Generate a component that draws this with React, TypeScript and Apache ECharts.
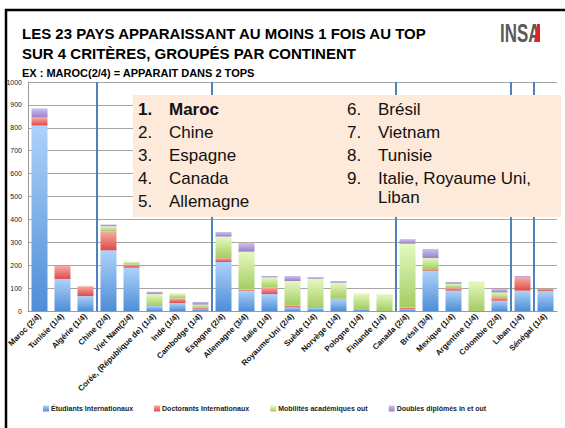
import React, { useEffect, useRef } from "react";
import * as echarts from "echarts";

const categories = [
  "Maroc (2/4)", "Tunisie (1/4)", "Algérie (1/4)", "Chine (2/4)", "Viet Nam(2/4)",
  "Corée, (République de) (1/4)", "Inde (1/4)", "Cambodge (1/4)", "Espagne (2/4)",
  "Allemagne (3/4)", "Italie (1/4)", "Royaume-Uni (2/4)", "Suède (1/4)", "Norvège (1/4)",
  "Pologne (1/4)", "Finlande (1/4)", "Canada (2/4)", "Brésil (3/4)", "Mexique (1/4)",
  "Argentine (1/4)", "Colombie (2/4)", "Liban (1/4)", "Sénégal (1/4)",
];
const etudiants = [810, 140, 65, 265, 189, 22, 35, 10, 214, 89, 74, 16, 13, 51, 9, 0, 9, 176, 89, 0, 45, 89, 87];
const doctorants = [35, 57, 43, 83, 14, 0, 20, 6, 17, 4, 28, 9, 0, 3, 0, 0, 6, 7, 11, 0, 12, 58, 9];
const mobilites = [0, 0, 0, 22, 12, 52, 22, 12, 94, 166, 45, 106, 128, 70, 68, 74, 279, 48, 19, 130, 24, 0, 0];
const doubles = [40, 0, 0, 8, 0, 10, 0, 12, 20, 39, 6, 22, 7, 7, 0, 0, 20, 40, 8, 0, 15, 6, 0];
const seriesNames = ["Étudiants Internationaux", "Doctorants Internationaux", "Mobilités académiques out", "Doubles diplômés in et out"];
const continentBreaks = [3, 8, 16, 21, 22];
const yTicks = { min: 0, max: 1000, interval: 100 };
const titleLines = ["LES 23 PAYS APPARAISSANT AU MOINS 1 FOIS AU TOP", "SUR 4 CRITÈRES, GROUPÉS PAR CONTINENT"];
const subtitle = "EX : MAROC(2/4) = APPARAIT DANS 2 TOPS";
const rankLeft = [["1.", "Maroc"], ["2.", "Chine"], ["3.", "Espagne"], ["4.", "Canada"], ["5.", "Allemagne"]];
const rankRight = [["6.", "Brésil"], ["7.", "Vietnam"], ["8.", "Tunisie"], ["9.", "Italie, Royaume Uni,"], ["", "Liban"]];

const grads: [string, string][] = [
  ["#aed2fa", "#4e8dd6"],
  ["#f9aaa6", "#dc4c46"],
  ["#e6f9c2", "#a3cd62"],
  ["#cfc2ec", "#9880cb"],
];

export default function App() {
  const ref = useRef<HTMLDivElement>(null);
  useEffect(() => {
    if (!ref.current) return;
    const chart = echarts.init(ref.current, null, { renderer: "svg" });
    const grad = (i: number) =>
      new echarts.graphic.LinearGradient(0, 0, 0, 1, [
        { offset: 0, color: grads[i][0] },
        { offset: 1, color: grads[i][1] },
      ]);
    const dataSets = [etudiants, doctorants, mobilites, doubles];
    const font = "'Liberation Sans', Arial, sans-serif";
    const txt = (x: number, y: number, text: string, f: string, extra: any = {}) => ({
      type: "text",
      z: 100,
      x,
      y,
      style: {
        text,
        font: f,
        fill: "#111",
        align: "left",
        verticalAlign: "middle",
        textAlign: "left",
        textVerticalAlign: "middle",
        ...extra,
      },
    });
    const graphics: any[] = [];
    graphics.push({
      type: "rect",
      z: 90,
      shape: { x: 133, y: 95, width: 428, height: 122 },
      style: { fill: "#fdeada" },
    });
    const ysL = [109, 132, 155, 178, 201];
    const ysR = [109, 132, 155, 178, 197];
    rankLeft.forEach((r, i) => {
      const f = i === 0 ? `bold 17px ${font}` : `17px ${font}`;
      graphics.push(txt(138, ysL[i], r[0], f));
      graphics.push(txt(169, ysL[i], r[1], f));
    });
    rankRight.forEach((r, i) => {
      if (r[0]) graphics.push(txt(347, ysR[i], r[0], `17px ${font}`));
      graphics.push(txt(378, ysR[i], r[1], `17px ${font}`));
    });
    graphics.push(txt(22, 33, titleLines[0], `bold 15px ${font}`, { fill: "#000" }));
    graphics.push(txt(22, 53, titleLines[1], `bold 15px ${font}`, { fill: "#000" }));
    graphics.push(txt(22, 73, subtitle, `bold 11px ${font}`, { fill: "#000" }));
    graphics.push({
      type: "text",
      z: 100,
      x: 500,
      y: 33,
      scaleX: 0.65,
      style: {
        text: "INSA",
        font: `bold 26px ${font}`,
        fill: "#5a5a5a",
        align: "left",
        verticalAlign: "middle",
        textAlign: "left",
        textVerticalAlign: "middle",
      },
    });
    graphics.push({
      type: "polygon",
      z: 101,
      shape: { points: [[537, 24], [540, 24], [540, 42], [534, 42]] },
      style: { fill: "#d9262b" },
    });
    graphics.push({
      type: "rect",
      z: 110,
      shape: { x: 6, y: 10, width: 700, height: 600 },
      style: { fill: "none", stroke: "#000", lineWidth: 2.5 },
    });

    chart.setOption({
      animation: false,
      backgroundColor: "#fff",
      grid: { left: 28, right: 8, top: 82, bottom: 117, containLabel: false },
      legend: {
        bottom: 11,
        left: 38,
        itemWidth: 6,
        itemHeight: 6,
        itemGap: 21,
        icon: "rect",
        textStyle: { fontSize: 7, fontWeight: "bold", color: "#222", fontFamily: font, padding: [0, 0, 0, -3] },
        data: seriesNames,
      },
      xAxis: [
        {
          type: "category",
          data: categories,
          axisTick: { show: false },
          axisLine: { lineStyle: { color: "#999" } },
          axisLabel: {
            rotate: 45,
            interval: 0,
            fontSize: 8,
            fontWeight: "bold",
            color: "#111",
            fontFamily: font,
            margin: 4,
          },
        },
        { type: "value", min: 0, max: 23, show: false },
      ],
      yAxis: {
        type: "value",
        ...yTicks,
        axisLine: { show: true, lineStyle: { color: "#999" } },
        axisTick: { show: false },
        splitLine: { lineStyle: { color: "#a6a6a6", width: 1 } },
        axisLabel: { fontSize: 7, color: "#222", fontFamily: font, margin: 6, formatter: (v: number) => String(v) },
      },
      graphic: graphics,
      series: [
        ...dataSets.map((d, i) => ({
          name: seriesNames[i],
          type: "bar",
          stack: "total",
          barWidth: 16,
          data: d,
          itemStyle: { color: grad(i) },
        })),
        {
          type: "scatter",
          xAxisIndex: 1,
          data: [[0, 0]],
          symbolSize: 0,
          silent: true,
          z: 5,
          markLine: {
            silent: true,
            symbol: "none",
            label: { show: false },
            lineStyle: { color: "#4f81bd", width: 2, type: "solid" },
            data: continentBreaks.map((v) => ({ xAxis: v })),
          },
        },
      ],
    });
    return () => chart.dispose();
  }, []);
  return <div ref={ref} style={{ position: "absolute", left: 0, top: 0, width: 565, height: 428 }} />;
}
